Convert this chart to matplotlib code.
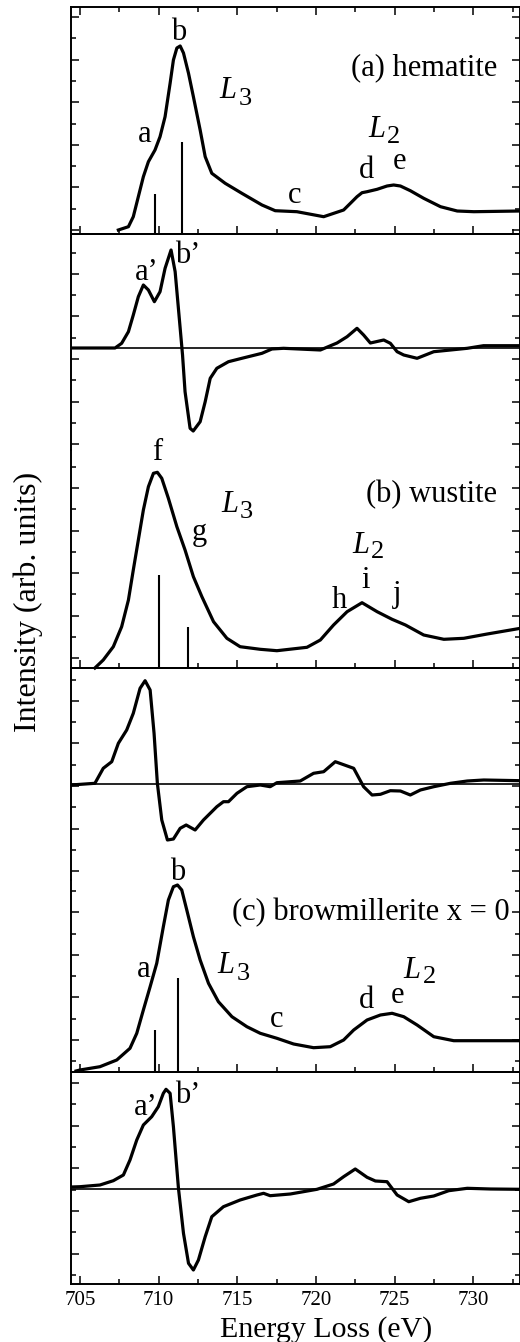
import numpy as np
import matplotlib
matplotlib.use('Agg')
import matplotlib.pyplot as plt

plt.rcParams['font.family'] = ['Liberation Serif', 'DejaVu Serif']

# ---- data (energy in eV, intensity in arb. units) ----
# (a) hematite spectrum
hem_E = [707.44, 708.08, 708.39, 708.71, 709.03, 709.35, 709.77, 710.09, 710.41, 710.73,
         710.94, 711.16, 711.37, 711.58, 711.9, 712.21, 712.64, 712.96, 713.38, 714.23,
         715.29, 716.57, 717.41, 718.79, 720.49, 721.76, 722.19, 722.61, 722.93, 723.25,
         723.89, 724.52, 724.94, 725.37, 726.0, 726.85, 727.92, 728.98, 730.04, 733.0]
hem_I = [0, 3.3, 13.3, 33.3, 53.3, 68.3, 80, 93.3, 113.3, 146.7,
         170, 182, 184, 177, 156.7, 133.3, 100, 73.3, 56.7, 46.7,
         36.7, 25, 19.3, 18.3, 13.3, 20, 26.7, 33.3, 37.3, 38.3,
         40.7, 44, 45, 44, 39.3, 31.7, 23.3, 19, 18.3, 19]
hem_stick_E = [709.77, 711.5]
hem_stick_I = [36, 88.3]

# (a) hematite derivative
hemd_E = [704.43, 707.23, 707.65, 708.08, 708.39, 708.71, 709.03, 709.35, 709.73, 710.09,
          710.41, 710.79, 711.05, 711.37, 711.52, 711.68, 712.0, 712.2, 712.64, 712.96,
          713.28, 713.7, 714.44, 715.29, 716.57, 717.2, 717.94, 720.28, 721.34, 721.98,
          722.61, 723.03, 723.46, 724.31, 724.73, 725.16, 725.58, 726.43, 727.49, 729.62,
          730.65, 733.0]
hemd_I = [0, 0, 4.7, 16.3, 33, 51.3, 63, 58, 46.3, 56.3,
          79.7, 98, 76.3, 19.7, -7, -43.7, -80.3, -83, -73.7, -53.7,
          -30.3, -20.3, -13.7, -10.3, -5.3, -1, -0.3, -2, 5, 11.3,
          19.7, 13, 5, 8, 4.7, -3.7, -7, -10.3, -3.7, -0.3,
          2.3, 2.3]

# (b) wustite spectrum
wus_E = [705.95, 706.48, 707.12, 707.65, 708.08, 708.39, 708.71, 709.03, 709.35, 709.67,
         709.92, 710.2, 710.62, 711.16, 711.68, 712.21, 712.75, 713.49, 714.34, 715.18,
         716.46, 717.52, 719.43, 720.28, 721.12, 721.98, 722.93, 723.89, 724.84, 725.69,
         726.85, 728.13, 729.4, 730.89, 733.0]
wus_I = [0, 8, 21.3, 41.3, 68, 98, 128, 158, 181.3, 194.7,
         195.7, 189.7, 169.7, 141.3, 118, 91.3, 71.3, 46.3, 29.7, 21.3,
         18.7, 17.3, 20.7, 28, 43, 56.3, 65.3, 56.3, 48.7, 43,
         33, 28.7, 29.7, 34, 39.7]
wus_stick_E = [710.03, 711.86]
wus_stick_I = [93, 41.3]

# (b) wustite derivative
wusd_E = [704.43, 705.95, 706.48, 707.02, 707.44, 707.97, 708.39, 708.82, 709.14, 709.46,
          709.71, 709.92, 710.2, 710.56, 710.94, 711.37, 711.75, 712.32, 712.85, 713.7,
          714.12, 714.44, 714.98, 715.61, 716.46, 717.09, 717.52, 719.0, 719.85, 720.49,
          721.23, 722.4, 723.03, 723.57, 724.1, 724.73, 725.37, 726.0, 726.64, 727.49,
          728.55, 729.62, 730.67, 733.0]
wusd_I = [-1, 0.7, 15.7, 22.3, 40.7, 54, 70.7, 95.7, 103.3, 94,
          50.7, 0.7, -36, -56, -55, -44.3, -41, -46, -36, -22.7,
          -17.7, -17.7, -9.3, -2.7, -1, -2.7, 1.3, 3, 10.7, 12.3,
          22.3, 15.7, -2.7, -11, -10.3, -6.7, -7, -11, -6, -2.7,
          0.7, 3, 4, 3.3]

# (c) browmillerite spectrum
bm_E = [704.75, 705.0, 706.27, 707.34, 708.18, 708.61, 709.03, 709.46, 709.88, 710.3,
        710.62, 710.94, 711.2, 711.47, 711.79, 712.21, 712.64, 713.17, 713.8, 714.66,
        715.61, 716.46, 717.52, 718.58, 719.85, 720.91, 721.76, 722.4, 723.25, 724.1,
        724.84, 725.58, 726.43, 727.49, 728.76, 730.67, 733.0]
bm_I = [1, 2, 5.3, 12, 23.7, 38.7, 62, 85.3, 108.7, 145.3,
        172, 185.3, 187, 182, 162, 135.3, 112, 88.7, 70.3, 55.3,
        45.3, 38.7, 33.7, 28, 24.3, 25.3, 32, 42, 52, 57,
        58.7, 55.3, 47, 35.3, 31.3, 31.3, 31.3]
bm_stick_E = [709.8, 711.24]
bm_stick_I = [42, 93.7]

# (c) browmillerite derivative
bmd_E = [704.43, 705.0, 706.27, 707.12, 707.76, 708.18, 708.61, 709.03, 709.56, 709.98,
         710.3, 710.47, 710.73, 710.94, 711.26, 711.58, 711.9, 712.21, 712.53, 712.96,
         713.38, 714.12, 715.18, 716.25, 716.67, 717.09, 718.37, 720.07, 721.12, 721.76,
         722.5, 723.25, 723.78, 724.52, 725.16, 725.9, 726.64, 727.49, 728.44, 729.62,
         731.1, 733.0]
bmd_I = [2, 2.3, 4, 8.3, 14, 29, 49, 64, 72.3, 82.3,
         95.7, 99.7, 95.7, 62.3, 0.7, -44.3, -74.3, -81, -71, -47.7,
         -27.7, -17.7, -11, -6, -4.3, -6.7, -5, -0.3, 5, 12.3,
         20, 11.7, 8, 7.3, -6, -12.7, -9.3, -7, -1.7, 0.7,
         0, -0.3]

x_major = [705, 710, 715, 720, 725, 730]
x_minor = [707.5, 712.5, 717.5, 722.5, 727.5, 732.5]

# ---- layout (pixels) ----
W, H = 520, 1342
fig = plt.figure(figsize=(W / 100, H / 100), dpi=100)
X0, X1 = 71, 519.5
E_MIN, E_MAX = 704.43, 732.94
STEP = 42.6
LW = 2.3


def panel(top, bottom, ylim, tick0, spines_off=(), xticks_top=False, xticks_bottom=True):
    ax = fig.add_axes([X0 / W, 1 - bottom / H, (X1 - X0) / W, (bottom - top) / H])
    ax.patch.set_alpha(0)
    ax.set_xlim(E_MIN, E_MAX)
    ax.set_ylim(*ylim)
    major = tick0 + STEP * np.arange(-10, 11)
    minor = major + STEP / 2
    ax.set_yticks(major[(major > ylim[0] + 1) & (major < ylim[1] - 1)])
    ax.set_yticks(minor[(minor > ylim[0] + 1) & (minor < ylim[1] - 1)], minor=True)
    ax.set_xticks(x_major)
    ax.set_xticks(x_minor, minor=True)
    ax.tick_params(axis='both', which='both', direction='in', width=1.1,
                   labelleft=False, labelbottom=False, left=True, right=True,
                   top=xticks_top, bottom=xticks_bottom)
    ax.tick_params(which='major', length=5.5)
    ax.tick_params(which='minor', length=3.5)
    for s in ax.spines.values():
        s.set_linewidth(1.4)
    for s in spines_off:
        ax.spines[s].set_visible(False)
    return ax


def label(x, y, s, size=22, **kw):
    fig.text(x / W, 1 - y / H, s, fontsize=size, ha='center', va='baseline', **kw)


def edge_label(x, y, num, xn, yn):
    label(x, y, 'L', style='italic', size=22)
    label(xn, yn, num, size=19)


# (a) hematite
ax = panel(7, 234, (-4, 223), 0, xticks_top=True)
ax.plot(hem_E, hem_I, color='k', lw=LW, solid_joinstyle='round')
ax.vlines(hem_stick_E, -4, hem_stick_I, color='k', lw=1.5)

ax = panel(234, 450, (-102, 114), -11, spines_off=('bottom',), xticks_bottom=False)
ax.axhline(0, color='k', lw=1.2)
ax.plot(hemd_E, hemd_I, color='k', lw=LW, solid_joinstyle='round')

# (b) wustite
ax = panel(450, 668, (0, 218), 9.7, spines_off=('top',))
ax.plot(wus_E, wus_I, color='k', lw=LW, clip_on=False, solid_joinstyle='round')
ax.vlines(wus_stick_E, 0, wus_stick_I, color='k', lw=1.5)

ax = panel(668, 880, (-96, 116), -2, spines_off=('bottom',), xticks_bottom=False)
ax.axhline(0, color='k', lw=1.2)
ax.plot(wusd_E, wusd_I, color='k', lw=LW, solid_joinstyle='round')

# (c) browmillerite
ax = panel(880, 1072, (0, 192), 32, spines_off=('top',))
ax.plot(bm_E, bm_I, color='k', lw=LW, clip_on=False, solid_joinstyle='round')
ax.vlines(bm_stick_E, 0, bm_stick_I, color='k', lw=1.5)

ax = panel(1072, 1284, (-95, 117), 20.7)
ax.axhline(0, color='k', lw=1.2)
ax.plot(bmd_E, bmd_I, color='k', lw=LW, solid_joinstyle='round')
ax.tick_params(labelbottom=True, labelsize=15, pad=5)

# peak labels
label(179, 40, 'b'); label(145, 142, 'a'); label(295, 203, 'c')
label(367, 178, 'd'); label(399, 169, 'e')
edge_label(228, 98, '3', 245, 105)
edge_label(377, 137, '2', 394, 143)
label(424, 75, '(a) hematite')
label(147, 280, 'a’'); label(188, 263, 'b’')

label(157, 460, 'f'); label(199, 540, 'g')
edge_label(230, 512, '3', 246, 518)
label(432, 502, '(b) wustite')
edge_label(361, 553, '2', 378, 558)
label(339, 608, 'h'); label(366, 588, 'i'); label(397, 602, 'j')

label(178, 880, 'b')
label(371, 920, '(c) browmillerite x = 0')
label(144, 977, 'a'); label(277, 1027, 'c')
label(366, 1008, 'd'); label(398, 1003, 'e')
edge_label(226, 973, '3', 243, 980)
edge_label(412, 978, '2', 430, 983)
label(146, 1115, 'a’'); label(188, 1103, 'b’')

# axis titles
label(326.5, 1337, 'Energy Loss (eV)', size=21.5)
fig.text(28 / W, 1 - 602 / H, 'Intensity (arb. units)', fontsize=23,
         rotation=90, ha='center', va='center')

fig.savefig('out.png', dpi=100)
